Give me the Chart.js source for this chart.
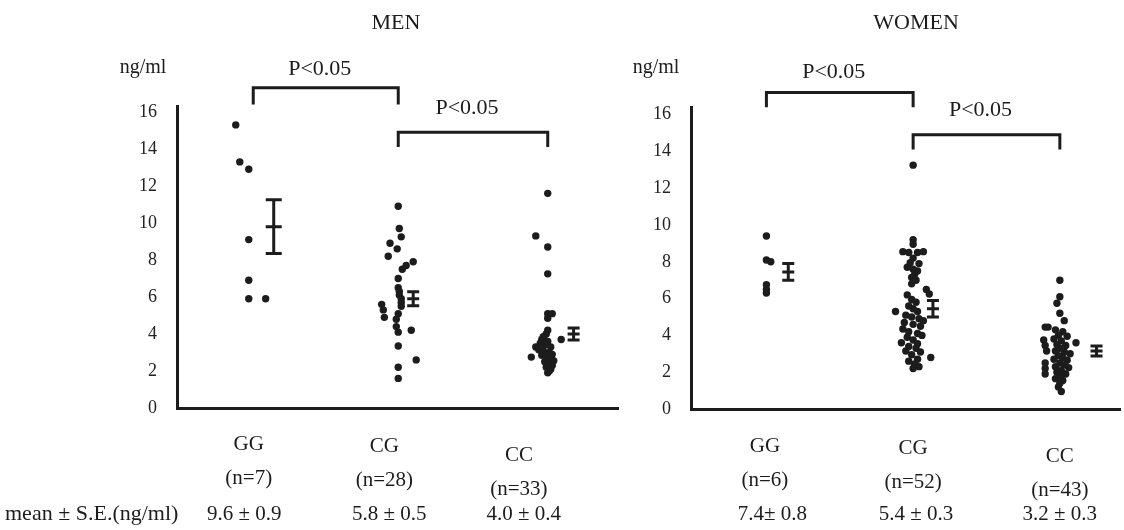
<!DOCTYPE html>
<html>
<head>
<meta charset="utf-8">
<script src="https://cdn.jsdelivr.net/npm/chart.js@4.4.1/dist/chart.umd.min.js"></script>
<style>
  body { margin: 0; background: #fff; }
  canvas { position: absolute; top: 0; }
</style>
</head>
<body>
<canvas id="men" width="622" height="530" style="left:0"></canvas>
<canvas id="women" width="502" height="530" style="left:622px"></canvas>
<script>
// genotype groups and labels
const groups = ['GG', 'CG', 'CC'];
const yTicks = [0, 2, 4, 6, 8, 10, 12, 14, 16];
const menN = ['(n=7)', '(n=28)', '(n=33)'];
const womenN = ['(n=6)', '(n=52)', '(n=43)'];
const menMeanText = ['9.6 \u00b1 0.9', '5.8 \u00b1 0.5', '4.0 \u00b1 0.4'];
const womenMeanText = ['7.4\u00b1 0.8', '5.4 \u00b1 0.3', '3.2 \u00b1 0.3'];

// individual values, [group position (with spread), ng/ml]
const menGG = [[0.913,15.3],[0.94,13.3],[1,12.9],[1,9.1],[1,6.9],[1,5.9],[1.113,5.9]];
const menCG = [[2,10.9],[2.007,9.7],[2.02,9.25],[1.945,8.9],[1.993,8.6],[1.933,8.2],[2.053,7.7],
  [2.1,7.9],[2.027,7.5],[2,7.0],[2.0,6.5],[2.007,6.3],[2.007,6.1],[2.02,5.9],[2.02,5.7],[2.02,5.5],
  [1.889,5.6],[1.9,5.3],[1.907,4.9],[2,5.1],[1.987,4.8],[1.987,4.4],[2,4.1],[2.087,4.2],
  [2,3.35],[2.12,2.6],[2,2.2],[2,1.6]];
const menCC = [[3,11.6],[2.92,9.3],[3,8.7],[3,7.25],[3,5.1],[3.03,5.1],[3,4.85],[3,4.2],[3.09,3.7],
  [2.96,3.7],[2.92,3.3],[2.89,2.75],[3.0,1.9],
  [2.99,4.0],[2.97,3.85],[3.0,3.6],[2.95,3.5],[2.98,3.4],[3.02,3.3],[2.94,3.15],[2.97,3.1],
  [3.01,3.0],[3.03,2.9],[2.96,2.85],[2.99,2.75],[3.02,2.65],[3.04,2.55],[2.98,2.5],[3.01,2.4],
  [3.03,2.3],[2.99,2.2],[3.02,2.1],[3.01,2.0]];

const womenGG = [[1,9.4],[1,8.1],[1.03,8.0],[1,6.75],[1,6.5],[1,6.3]];
const womenCG = [[2,13.25],
  [2.0,9.2],[2.0,8.95],[1.93,8.55],[1.97,8.5],[2.03,8.5],[2.07,8.55],[2.0,8.2],[1.98,7.95],
  [2.04,7.9],[1.96,7.7],[2.0,7.6],[2.03,7.5],[2.01,7.3],[1.99,7.15],[2.02,7.0],[1.99,6.8],
  [2.09,6.5],[2.11,6.25],[1.96,6.2],[1.99,5.95],[2.02,5.8],[1.97,5.6],[2.0,5.45],[1.88,5.3],
  [2.03,5.3],[1.95,5.1],[1.99,5.0],[2.04,4.9],[2.07,4.8],
  [1.94,4.7],[2.0,4.6],[2.05,4.5],[1.93,4.35],[1.97,4.2],[2.03,4.1],[2.06,4.0],[1.96,3.9],
  [2.0,3.75],[1.92,3.6],[2.03,3.55],[1.97,3.4],[2.02,3.3],[1.95,3.15],[2.05,3.1],[1.99,2.95],
  [2.12,2.8],[2.03,2.7],[1.97,2.6],[2.01,2.45],[2.04,2.3],[2.0,2.2]];
const womenCC = [[3,7.0],[3,6.1],[2.98,5.75],[3.0,5.2],[3.03,4.8],[2.9,4.45],[2.92,4.45],[3.11,3.6],
  [2.89,3.75],[2.9,3.45],[2.91,3.15],[2.9,2.5],[2.9,2.2],[2.9,1.9],
  [2.97,4.3],[3.02,4.2],[2.99,4.0],[3.05,3.95],[2.96,3.8],[3.01,3.7],[2.98,3.5],[3.04,3.45],
  [3.0,3.3],[2.97,3.15],[3.03,3.1],[3.07,3.0],[2.99,2.9],[3.02,2.8],[2.96,2.7],[3.05,2.65],
  [3.0,2.5],[3.03,2.4],[2.97,2.3],[3.06,2.25],[3.01,2.1],[2.98,2.0],[3.04,1.9],[3.0,1.8],
  [2.97,1.65],[3.02,1.55],[3.0,1.4],[2.99,1.2],[3.01,0.95]];

// mean +- bar as drawn: position, centre, half length
const menBarX = [1.167, 2.1, 3.173];
const menBarMid = [9.8, 5.9, 4.0];
const menBarHalf = [1.45, 0.38, 0.32];
const womenBarX = [1.149, 2.135, 3.25];
const womenBarMid = [7.45, 5.45, 3.15];
const womenBarHalf = [0.45, 0.45, 0.27];

// significance brackets: from group, to group, top value, end value
const menBrackets = [[1.03, 2, 17.3, 16.4], [2, 3, 14.9, 14.1]];
const womenBrackets = [[1, 2, 17.2, 16.4], [2, 3, 14.9, 14.1]];
const pLabel = 'P<0.05';

const serif = "'Liberation Serif', 'Times New Roman', serif";
const ink = '#1c1c1c';

const annotate = {
  id: 'annotate',
  afterDraw(chart) {
    const p = chart.options.plugins.annotate;
    const ctx = chart.ctx, xs = chart.scales.x, ys = chart.scales.y;
    ctx.save();
    ctx.strokeStyle = ink;
    ctx.fillStyle = ink;
    ctx.lineWidth = 3;
    ctx.lineCap = 'butt';

    // mean +- bars
    p.barX.forEach((bx, i) => {
      const x = xs.getPixelForValue(bx);
      const top = ys.getPixelForValue(p.barMid[i] + p.barHalf[i]);
      const bot = ys.getPixelForValue(p.barMid[i] - p.barHalf[i]);
      const mid = ys.getPixelForValue(p.barMid[i]);
      const w = p.cap[i];
      ctx.beginPath();
      ctx.moveTo(x, top); ctx.lineTo(x, bot);
      [top, mid, bot].forEach(y => { ctx.moveTo(x - w, y); ctx.lineTo(x + w, y); });
      ctx.stroke();
    });

    // brackets
    ctx.font = '22px ' + serif;
    ctx.textAlign = 'center';
    ctx.textBaseline = 'middle';
    p.brackets.forEach((b, i) => {
      const x1 = xs.getPixelForValue(b[0]), x2 = xs.getPixelForValue(b[1]);
      const yt = ys.getPixelForValue(b[2]), ye = ys.getPixelForValue(b[3]);
      ctx.beginPath();
      ctx.moveTo(x1, ye); ctx.lineTo(x1, yt); ctx.lineTo(x2, yt); ctx.lineTo(x2, ye);
      ctx.stroke();
      ctx.fillText(pLabel, (x1 + x2) / 2 - 6, yt - p.pGap[i]);
    });

    // titles
    ctx.font = '22px ' + serif;
    ctx.fillText(p.title, p.titleX, 23);
    ctx.font = '20px ' + serif;
    ctx.fillText('ng/ml', p.unitX, 68);

    // group labels
    ctx.font = '21px ' + serif;
    groups.forEach((g, i) => {
      const x = xs.getPixelForValue(p.labelX[i]);
      ctx.fillText(g, x, p.catY[i]);
      ctx.fillText(p.n[i], x, p.catY[i] + 34);
    });
    ctx.font = '21px ' + serif;
    p.meanText.forEach((t, i) => {
      ctx.fillText(t, xs.getPixelForValue(p.meanX[i]), 514);
    });
    if (p.rowLabel) {
      ctx.font = '22px ' + serif;
      ctx.textAlign = 'left';
      ctx.fillText(p.rowLabel, 5, 514);
    }
    ctx.restore();
  }
};

function panel(id, sets, xmin, xmax, ymax, pad, extra) {
  new Chart(document.getElementById(id), {
    type: 'scatter',
    data: {
      datasets: sets.map(s => ({
        data: s.map(d => ({ x: d[0], y: d[1] })),
        pointRadius: 3.7,
        pointBackgroundColor: ink,
        pointBorderWidth: 0,
        clip: false
      }))
    },
    options: {
      responsive: false,
      animation: false,
      events: [],
      layout: { padding: pad },
      plugins: { legend: { display: false }, tooltip: { enabled: false }, annotate: extra },
      scales: {
        x: {
          type: 'linear', min: xmin, max: xmax,
          grid: { display: false },
          ticks: { display: false },
          border: { display: true, width: 3, color: ink },
          afterFit: s => { s.height = 0; }
        },
        y: {
          min: 0, max: ymax,
          grid: { display: false },
          border: { display: true, width: 3, color: ink },
          ticks: { color: '#222', padding: 12, font: { family: serif, size: 18 } },
          afterBuildTicks: s => { s.ticks = yTicks.map(v => ({ value: v })); },
          afterFit: s => { s.width = 50; }
        }
      }
    },
    plugins: [annotate]
  });
}

panel('men', [menGG, menCG, menCC], 0.52, 3.47, 16.32,
  { left: 127, top: 106, right: 2, bottom: 122 },
  {
    barX: menBarX, barMid: menBarMid, barHalf: menBarHalf, cap: [8, 6, 6],
    brackets: menBrackets, pGap: [19, 24],
    title: 'MEN', titleX: 396, unitX: 143,
    labelX: [1.0, 1.907, 2.807], catY: [444, 446, 455], n: menN,
    meanText: menMeanText, meanX: [0.97, 1.94, 2.84],
    rowLabel: 'mean \u00b1 S.E.(ng/ml)'
  });

panel('women', [womenGG, womenCG, womenCC], 0.486, 3.41, 16.41,
  { left: 19, top: 107, right: 0, bottom: 121 },
  {
    barX: womenBarX, barMid: womenBarMid, barHalf: womenBarHalf, cap: [6, 6, 6],
    brackets: womenBrackets, pGap: [20, 25],
    title: 'WOMEN', titleX: 916 - 622, unitX: 656 - 622,
    labelX: [0.99, 2.0, 3.0], catY: [446, 448, 456], n: womenN,
    meanText: womenMeanText, meanX: [1.04, 2.02, 3.0],
    rowLabel: null
  });
</script>
</body>
</html>
